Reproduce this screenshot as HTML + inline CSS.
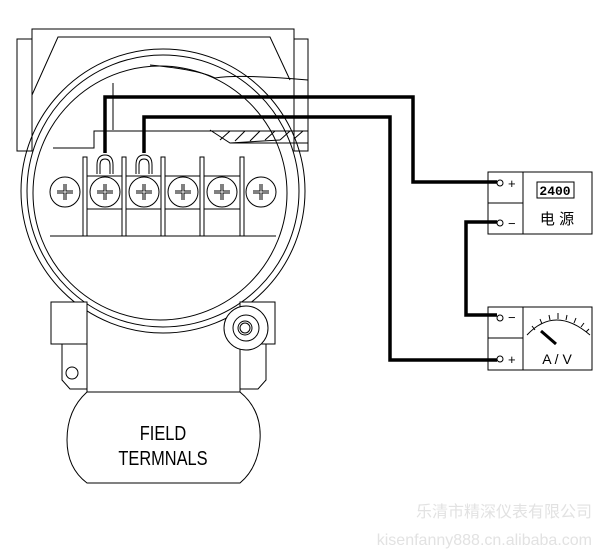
<!DOCTYPE html>
<html><head><style>body{margin:0;background:#fff}svg{display:block}</style></head><body>
<svg width="610" height="559" viewBox="0 0 610 559" xmlns="http://www.w3.org/2000/svg" font-family="Liberation Sans, sans-serif">
<g fill="none" stroke="#000" stroke-width="1">
<!-- housing -->
<rect x="17" y="39" width="15" height="112"/>
<rect x="294" y="39" width="14" height="112"/>
<polyline points="32,151 32,29 294,29 294,151"/>
<polyline points="32,95 58,37 270,37 290,80"/>
<!-- circles -->
<circle cx="163" cy="191" r="142"/>
<circle cx="163" cy="191" r="136"/>
<circle cx="160" cy="193" r="127"/>
<!-- cover plate -->
<polyline points="53,148 94,148 94,131 308,131"/>
<polyline points="113,83 113,130"/>
<polyline points="230,143 308,143"/>
<polyline points="210,130 230,143 280,140"/>
<line x1="220" y1="140" x2="230" y2="131"/><line x1="235" y1="141" x2="245" y2="131"/><line x1="250" y1="141" x2="260" y2="131"/><line x1="265" y1="140" x2="275" y2="131"/><line x1="280" y1="140" x2="290" y2="131"/><line x1="295" y1="138" x2="303" y2="131"/>
<path d="M150,65 Q200,70 215,78 Q240,74 308,80"/>
<!-- terminal strip -->
<line x1="50" y1="236" x2="276" y2="236"/>
<rect x="83" y="157" width="4" height="79" fill="#fff"/>
<rect x="122" y="157" width="4" height="79" fill="#fff"/>
<rect x="161" y="157" width="4" height="79" fill="#fff"/>
<rect x="200" y="157" width="4" height="79" fill="#fff"/>
<rect x="240" y="157" width="4" height="79" fill="#fff"/>
<rect x="87" y="176" width="35" height="33"/>
<rect x="126" y="176" width="35" height="33"/>
<rect x="165" y="176" width="35" height="33"/>
<rect x="204" y="176" width="36" height="33"/>
<g id="s"><circle cx="65" cy="192" r="15" fill="#fff"/><path d="M65,184 v16 M57,192 h16" stroke-width="3"/><path d="M65,184 v16 M57,192 h16" stroke="#fff" stroke-width="1"/></g>
<use href="#s" x="40"/><use href="#s" x="79"/><use href="#s" x="118"/><use href="#s" x="157"/><use href="#s" x="196"/>
<!-- lugs -->
<path d="M97,174 V165 Q97,155 105,155 Q113,155 113,165 V174 M100,174 V165 Q100,159 105,159 Q110,159 110,165 V174"/>
<path d="M136,174 V165 Q136,155 144,155 Q152,155 152,165 V174 M139,174 V165 Q139,159 144,159 Q149,159 149,165 V174"/>
<!-- lower body -->
<rect x="51" y="302" width="36" height="42" fill="#fff"/>
<rect x="240" y="302" width="35" height="42" fill="#fff"/>
<polyline points="62,344 62,380 70,389 87,389" fill="#fff"/>
<polyline points="266,344 266,380 258,389 240,389" fill="#fff"/>
<circle cx="72" cy="373" r="6"/>
<line x1="87" y1="312" x2="87" y2="392"/><line x1="240" y1="320" x2="240" y2="392"/>
<circle cx="246" cy="328" r="22" fill="#fff"/><circle cx="246" cy="328" r="13"/><circle cx="245" cy="328" r="7"/><circle cx="245" cy="328" r="5"/>
<path d="M87,392 L240,392 Q262,410 260,440 Q258,468 240,483 L87,483 Q67,468 67,440 Q67,410 87,392 Z" fill="#fff"/>
<!-- boxes -->
<rect x="488" y="172" width="104" height="62"/>
<line x1="523" y1="172" x2="523" y2="234"/><line x1="488" y1="203" x2="523" y2="203"/>
<rect x="537" y="182" width="37" height="16"/>
<rect x="488" y="307" width="104" height="63"/>
<line x1="523" y1="307" x2="523" y2="370"/><line x1="488" y1="338" x2="523" y2="338"/>
<path d="M527,335 Q555,305 590,335"/>
<path d="M535,330 l-3,-4 M542,324 l-2,-5 M550,320 l-1,-5 M558,319 l0,-6 M566,320 l1,-5 M574,323 l2,-5 M581,327 l3,-4 M586,332 l3,-3"/>
<circle cx="500" cy="183" r="3"/><circle cx="500" cy="223" r="3"/><circle cx="500" cy="318" r="3"/><circle cx="500" cy="359" r="3"/>
</g>
<line x1="541" y1="331" x2="556" y2="344" stroke="#000" stroke-width="3"/>
<!-- wires -->
<g fill="none" stroke="#000" stroke-width="3.5">
<polyline points="105,153 105,97 413,97 413,182 497,182"/>
<polyline points="144,153 144,117 390,117 390,360 497,360"/>
<polyline points="497,222 466,222 466,315 497,315"/>
</g>
<g font-size="13" fill="#000">
<text x="508" y="188">+</text><text x="508" y="228">−</text><text x="508" y="322">−</text><text x="508" y="364">+</text>
</g>
<text x="555" y="195" font-size="13" font-weight="bold" text-anchor="middle" font-family="Liberation Mono, monospace">2400</text>
<text x="557" y="224" font-size="15" text-anchor="middle" font-family="Liberation Sans, Noto Sans CJK SC, sans-serif">电 源</text>
<text x="557" y="364" font-size="14" text-anchor="middle">A / V</text>
<text x="163" y="440" font-size="20" text-anchor="middle" transform="scale(0.82,1)" transform-origin="163 440">FIELD</text>
<text x="163" y="465" font-size="20" text-anchor="middle" transform="scale(0.82,1)" transform-origin="163 465">TERMNALS</text>
<text x="592" y="517" font-size="16" fill="#e2e2e2" text-anchor="end" font-family="Liberation Sans, Noto Sans CJK SC, sans-serif">乐清市精深仪表有限公司</text>
<text x="592" y="545" font-size="16" fill="#e2e2e2" text-anchor="end">kisenfanny888.cn.alibaba.com</text>
</svg>
</body></html>
